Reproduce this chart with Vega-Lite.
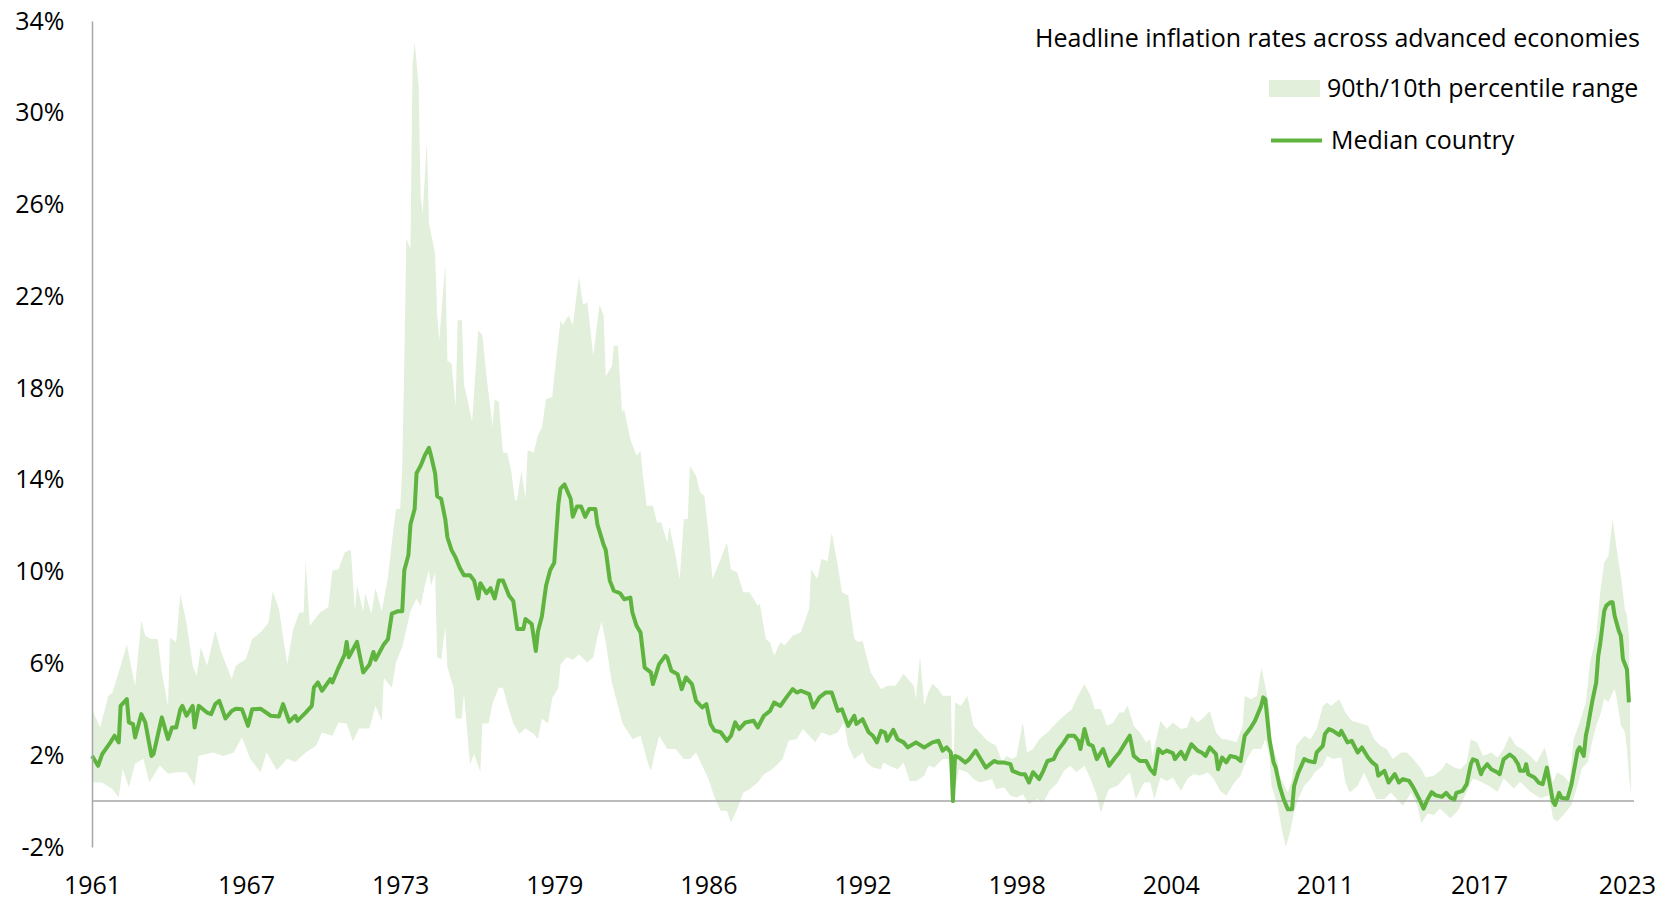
{
"$schema": "https://vega.github.io/schema/vega-lite/v6.json",
"width": 1542, "height": 826,
"autosize": {"type": "none"},
"padding": {"left": 92, "top": 21, "right": 33, "bottom": 55},
"background": "white",
"config": {"view": {"stroke": null}, "font": "Open Sans"},
"title": {"text": "Headline inflation rates across advanced economies", "anchor": "end", "frame": "group", "orient": "top", "fontSize": 25, "fontWeight": "normal", "color": "#000000", "font": "Open Sans", "baseline": "middle", "offset": 0, "dy": 55, "dx": 6},
"datasets": {
"hi": [
{"d":"1961-01","v":4.0},{"d":"1961-05","v":3.21},{"d":"1961-09","v":4.59},{"d":"1961-11","v":4.73},{"d":"1962-03","v":5.9},{"d":"1962-06","v":6.84},{"d":"1962-08","v":5.9},{"d":"1962-10","v":5.02},{"d":"1963-01","v":7.86},{"d":"1963-03","v":7.2},{"d":"1963-06","v":7.06},{"d":"1963-09","v":7.06},{"d":"1963-11","v":5.6},{"d":"1964-02","v":4.15},{"d":"1964-03","v":7.13},{"d":"1964-06","v":6.91},{"d":"1964-08","v":9.02},{"d":"1964-11","v":7.75},{"d":"1965-02","v":5.9},{"d":"1965-04","v":5.46},{"d":"1965-06","v":6.7},{"d":"1965-09","v":5.9},{"d":"1966-01","v":7.42},{"d":"1966-04","v":6.48},{"d":"1966-09","v":5.32},{"d":"1966-11","v":5.9},{"d":"1967-04","v":6.19},{"d":"1967-07","v":7.06},{"d":"1967-11","v":7.35},{"d":"1968-03","v":7.78},{"d":"1968-05","v":9.16},{"d":"1968-08","v":8.37},{"d":"1968-12","v":5.97},{"d":"1969-03","v":7.5},{"d":"1969-06","v":8.22},{"d":"1969-08","v":8.22},{"d":"1969-09","v":10.47},{"d":"1969-11","v":7.64},{"d":"1970-04","v":8.22},{"d":"1970-08","v":8.45},{"d":"1970-10","v":10.04},{"d":"1971-01","v":10.1},{"d":"1971-04","v":10.84},{"d":"1971-07","v":10.95},{"d":"1971-09","v":8.28},{"d":"1971-10","v":9.39},{"d":"1972-01","v":8.28},{"d":"1972-02","v":9.06},{"d":"1972-05","v":8.17},{"d":"1972-07","v":9.28},{"d":"1972-10","v":8.28},{"d":"1973-01","v":9.72},{"d":"1973-03","v":11.28},{"d":"1973-05","v":12.73},{"d":"1973-07","v":12.73},{"d":"1973-08","v":14.51},{"d":"1973-09","v":19.18},{"d":"1973-10","v":24.52},{"d":"1973-12","v":24.07},{"d":"1974-01","v":32.09},{"d":"1974-02","v":33.09},{"d":"1974-04","v":31.2},{"d":"1974-05","v":26.3},{"d":"1974-06","v":25.63},{"d":"1974-08","v":28.75},{"d":"1974-09","v":25.19},{"d":"1974-12","v":23.85},{"d":"1975-01","v":21.18},{"d":"1975-02","v":20.07},{"d":"1975-05","v":23.41},{"d":"1975-06","v":19.18},{"d":"1975-08","v":19.07},{"d":"1975-10","v":17.18},{"d":"1975-11","v":20.96},{"d":"1976-01","v":20.96},{"d":"1976-02","v":18.18},{"d":"1976-04","v":17.4},{"d":"1976-06","v":16.51},{"d":"1976-07","v":17.85},{"d":"1976-09","v":20.52},{"d":"1976-11","v":20.29},{"d":"1977-01","v":18.51},{"d":"1977-04","v":16.29},{"d":"1977-05","v":17.51},{"d":"1977-07","v":17.4},{"d":"1977-09","v":15.18},{"d":"1977-11","v":15.18},{"d":"1978-01","v":14.4},{"d":"1978-03","v":13.06},{"d":"1978-04","v":13.17},{"d":"1978-06","v":14.4},{"d":"1978-08","v":13.17},{"d":"1978-09","v":15.29},{"d":"1978-12","v":15.18},{"d":"1979-02","v":15.95},{"d":"1979-04","v":16.29},{"d":"1979-06","v":17.51},{"d":"1979-09","v":17.62},{"d":"1979-10","v":18.51},{"d":"1980-01","v":20.96},{"d":"1980-02","v":20.74},{"d":"1980-05","v":21.18},{"d":"1980-07","v":20.74},{"d":"1980-10","v":22.85},{"d":"1980-12","v":21.63},{"d":"1981-02","v":21.74},{"d":"1981-05","v":19.4},{"d":"1981-08","v":21.63},{"d":"1981-10","v":21.18},{"d":"1981-11","v":18.51},{"d":"1982-02","v":18.96},{"d":"1982-03","v":19.85},{"d":"1982-05","v":19.85},{"d":"1982-07","v":16.94},{"d":"1982-08","v":17.08},{"d":"1982-11","v":15.77},{"d":"1983-02","v":15.05},{"d":"1983-04","v":15.26},{"d":"1983-05","v":14.32},{"d":"1983-07","v":12.87},{"d":"1983-10","v":12.87},{"d":"1983-12","v":12.14},{"d":"1984-02","v":12.14},{"d":"1984-05","v":11.27},{"d":"1984-06","v":11.99},{"d":"1984-09","v":10.69},{"d":"1984-11","v":9.68},{"d":"1985-01","v":12.29},{"d":"1985-03","v":12.29},{"d":"1985-04","v":14.61},{"d":"1985-07","v":14.18},{"d":"1985-09","v":13.45},{"d":"1985-11","v":13.31},{"d":"1986-01","v":11.71},{"d":"1986-03","v":9.68},{"d":"1986-07","v":10.55},{"d":"1986-10","v":11.27},{"d":"1986-12","v":10.11},{"d":"1987-03","v":9.97},{"d":"1987-06","v":9.1},{"d":"1987-09","v":9.1},{"d":"1988-01","v":8.52},{"d":"1988-02","v":8.59},{"d":"1988-05","v":7.07},{"d":"1988-07","v":6.92},{"d":"1988-09","v":6.34},{"d":"1988-12","v":6.92},{"d":"1989-02","v":6.78},{"d":"1989-06","v":7.21},{"d":"1989-10","v":7.36},{"d":"1990-02","v":8.38},{"d":"1990-03","v":10.11},{"d":"1990-06","v":9.68},{"d":"1990-08","v":10.55},{"d":"1990-11","v":10.47},{"d":"1991-01","v":11.71},{"d":"1991-04","v":10.26},{"d":"1991-06","v":9.1},{"d":"1991-09","v":8.96},{"d":"1991-12","v":7.07},{"d":"1992-02","v":6.92},{"d":"1992-04","v":6.99},{"d":"1992-08","v":5.61},{"d":"1992-11","v":5.17},{"d":"1993-01","v":4.88},{"d":"1993-04","v":5.03},{"d":"1993-08","v":5.03},{"d":"1993-12","v":5.54},{"d":"1994-02","v":5.32},{"d":"1994-05","v":5.03},{"d":"1994-06","v":4.45},{"d":"1994-08","v":6.34},{"d":"1994-10","v":4.16},{"d":"1994-12","v":4.74},{"d":"1995-02","v":5.1},{"d":"1995-05","v":4.88},{"d":"1995-07","v":4.59},{"d":"1995-11","v":4.59},{"d":"1995-12","v":0},{"d":"1996-01","v":4.3},{"d":"1996-04","v":4.16},{"d":"1996-07","v":4.59},{"d":"1996-10","v":3.28},{"d":"1997-01","v":2.99},{"d":"1997-04","v":2.7},{"d":"1997-06","v":2.56},{"d":"1997-09","v":2.41},{"d":"1997-12","v":1.68},{"d":"1998-02","v":1.97},{"d":"1998-05","v":1.83},{"d":"1998-07","v":1.97},{"d":"1998-10","v":3.43},{"d":"1998-12","v":2.12},{"d":"1999-03","v":2.27},{"d":"1999-06","v":2.7},{"d":"1999-10","v":2.99},{"d":"2000-01","v":3.28},{"d":"2000-06","v":3.72},{"d":"2000-10","v":4.01},{"d":"2000-12","v":4.45},{"d":"2001-04","v":5.1},{"d":"2001-07","v":4.59},{"d":"2001-09","v":4.01},{"d":"2001-12","v":4.01},{"d":"2002-03","v":3.28},{"d":"2002-06","v":3.43},{"d":"2002-09","v":3.86},{"d":"2002-11","v":3.86},{"d":"2003-01","v":4.16},{"d":"2003-04","v":3.28},{"d":"2003-07","v":2.99},{"d":"2003-10","v":2.56},{"d":"2003-12","v":2.7},{"d":"2004-01","v":1.97},{"d":"2004-05","v":3.5},{"d":"2004-08","v":3.14},{"d":"2004-11","v":3.43},{"d":"2005-03","v":3.14},{"d":"2005-06","v":3.21},{"d":"2005-08","v":3.72},{"d":"2005-11","v":3.43},{"d":"2006-02","v":3.64},{"d":"2006-05","v":3.93},{"d":"2006-08","v":2.99},{"d":"2006-11","v":2.7},{"d":"2007-01","v":2.7},{"d":"2007-06","v":2.56},{"d":"2007-09","v":3.28},{"d":"2007-10","v":4.59},{"d":"2008-01","v":4.44},{"d":"2008-04","v":4.59},{"d":"2008-06","v":5.82},{"d":"2008-08","v":5.02},{"d":"2008-10","v":4.01},{"d":"2008-11","v":2.56},{"d":"2009-02","v":1.69},{"d":"2009-03","v":1.1},{"d":"2009-07","v":0.38},{"d":"2009-09","v":0.96},{"d":"2009-11","v":2.41},{"d":"2010-03","v":2.85},{"d":"2010-06","v":2.7},{"d":"2010-09","v":3.14},{"d":"2010-12","v":4.15},{"d":"2011-02","v":4.3},{"d":"2011-04","v":4.15},{"d":"2011-08","v":4.44},{"d":"2011-11","v":3.86},{"d":"2012-02","v":3.5},{"d":"2012-05","v":3.43},{"d":"2012-10","v":3.28},{"d":"2013-01","v":2.7},{"d":"2013-04","v":2.41},{"d":"2013-07","v":2.27},{"d":"2013-10","v":1.83},{"d":"2014-02","v":2.12},{"d":"2014-05","v":2.12},{"d":"2014-08","v":1.83},{"d":"2014-12","v":1.39},{"d":"2015-02","v":1.03},{"d":"2015-06","v":1.1},{"d":"2015-10","v":1.39},{"d":"2015-12","v":1.68},{"d":"2016-04","v":1.46},{"d":"2016-07","v":1.39},{"d":"2016-10","v":1.68},{"d":"2016-12","v":2.7},{"d":"2017-03","v":2.56},{"d":"2017-06","v":1.97},{"d":"2017-10","v":2.12},{"d":"2018-01","v":1.9},{"d":"2018-04","v":2.27},{"d":"2018-07","v":2.85},{"d":"2018-10","v":2.41},{"d":"2019-01","v":2.27},{"d":"2019-05","v":1.97},{"d":"2019-08","v":1.68},{"d":"2019-12","v":2.34},{"d":"2020-01","v":1.97},{"d":"2020-04","v":0.81},{"d":"2020-06","v":1.25},{"d":"2020-09","v":1.1},{"d":"2020-12","v":0.81},{"d":"2021-02","v":2.7},{"d":"2021-05","v":3.43},{"d":"2021-08","v":4.3},{"d":"2021-10","v":6.04},{"d":"2022-01","v":7.2},{"d":"2022-03","v":9.09},{"d":"2022-05","v":10.4},{"d":"2022-07","v":10.69},{"d":"2022-09","v":12.29},{"d":"2022-11","v":10.98},{"d":"2023-01","v":9.82},{"d":"2023-03","v":8.37},{"d":"2023-04","v":8.08},{"d":"2023-05","v":7.2},{"d":"2023-06","v":0.5}
],
"lo": [
{"d":"1961-01","v":0.81},{"d":"1961-06","v":0.81},{"d":"1961-11","v":0.52},{"d":"1962-02","v":0.17},{"d":"1962-04","v":1.41},{"d":"1962-07","v":0.6},{"d":"1962-10","v":1.63},{"d":"1963-02","v":1.85},{"d":"1963-05","v":0.81},{"d":"1963-10","v":1.55},{"d":"1964-02","v":1.19},{"d":"1964-06","v":1.26},{"d":"1964-11","v":1.26},{"d":"1965-03","v":0.67},{"d":"1965-05","v":1.97},{"d":"1965-12","v":2.12},{"d":"1966-05","v":1.97},{"d":"1966-10","v":2.12},{"d":"1967-02","v":2.77},{"d":"1967-06","v":1.85},{"d":"1967-11","v":1.26},{"d":"1968-02","v":2.12},{"d":"1968-07","v":1.34},{"d":"1968-12","v":1.85},{"d":"1969-04","v":1.7},{"d":"1969-09","v":2.12},{"d":"1970-02","v":2.41},{"d":"1970-05","v":2.99},{"d":"1970-10","v":2.85},{"d":"1971-01","v":3.43},{"d":"1971-05","v":3.38},{"d":"1971-08","v":2.6},{"d":"1971-11","v":3.16},{"d":"1972-04","v":3.16},{"d":"1972-07","v":4.16},{"d":"1972-10","v":3.49},{"d":"1972-11","v":5.38},{"d":"1973-03","v":4.94},{"d":"1973-05","v":6.05},{"d":"1973-08","v":6.72},{"d":"1973-12","v":8.28},{"d":"1974-03","v":8.83},{"d":"1974-05","v":8.5},{"d":"1974-07","v":9.39},{"d":"1974-09","v":10.06},{"d":"1974-10","v":9.39},{"d":"1974-12","v":9.95},{"d":"1975-01","v":6.27},{"d":"1975-03","v":6.16},{"d":"1975-05","v":7.61},{"d":"1975-06","v":5.83},{"d":"1975-09","v":4.94},{"d":"1975-10","v":3.6},{"d":"1976-01","v":3.6},{"d":"1976-02","v":4.72},{"d":"1976-05","v":1.6},{"d":"1976-07","v":2.05},{"d":"1976-10","v":1.27},{"d":"1976-11","v":3.38},{"d":"1977-02","v":3.38},{"d":"1977-04","v":4.27},{"d":"1977-07","v":4.94},{"d":"1977-09","v":4.94},{"d":"1977-11","v":4.27},{"d":"1978-02","v":3.38},{"d":"1978-05","v":2.94},{"d":"1978-08","v":3.16},{"d":"1978-12","v":2.94},{"d":"1979-02","v":2.71},{"d":"1979-04","v":3.6},{"d":"1979-07","v":3.38},{"d":"1979-09","v":4.49},{"d":"1979-12","v":4.94},{"d":"1980-01","v":5.94},{"d":"1980-04","v":6.27},{"d":"1980-07","v":6.16},{"d":"1980-10","v":6.39},{"d":"1981-02","v":6.05},{"d":"1981-05","v":6.27},{"d":"1981-07","v":7.16},{"d":"1981-09","v":7.83},{"d":"1981-11","v":6.94},{"d":"1982-02","v":5.16},{"d":"1982-04","v":4.49},{"d":"1982-06","v":3.83},{"d":"1982-07","v":3.43},{"d":"1982-10","v":3.0},{"d":"1982-12","v":2.71},{"d":"1983-04","v":2.85},{"d":"1983-07","v":1.83},{"d":"1983-09","v":1.32},{"d":"1983-11","v":2.12},{"d":"1984-01","v":2.85},{"d":"1984-05","v":2.27},{"d":"1984-09","v":2.27},{"d":"1985-01","v":1.83},{"d":"1985-04","v":1.83},{"d":"1985-07","v":2.12},{"d":"1985-10","v":1.54},{"d":"1986-01","v":0.96},{"d":"1986-04","v":0.16},{"d":"1986-07","v":-0.42},{"d":"1986-10","v":-0.42},{"d":"1986-12","v":-0.93},{"d":"1987-03","v":-0.35},{"d":"1987-06","v":0.38},{"d":"1987-09","v":0.52},{"d":"1988-01","v":0.81},{"d":"1988-04","v":1.17},{"d":"1988-07","v":1.32},{"d":"1988-10","v":1.54},{"d":"1989-01","v":1.83},{"d":"1989-04","v":2.63},{"d":"1989-08","v":2.71},{"d":"1989-11","v":3.14},{"d":"1990-02","v":2.85},{"d":"1990-05","v":2.56},{"d":"1990-08","v":3.0},{"d":"1990-12","v":2.85},{"d":"1991-04","v":3.0},{"d":"1991-07","v":3.43},{"d":"1991-09","v":2.41},{"d":"1991-12","v":1.83},{"d":"1992-04","v":2.12},{"d":"1992-06","v":1.68},{"d":"1992-09","v":1.46},{"d":"1993-01","v":1.39},{"d":"1993-02","v":1.68},{"d":"1993-05","v":1.54},{"d":"1993-09","v":1.39},{"d":"1993-12","v":1.68},{"d":"1994-03","v":0.88},{"d":"1994-06","v":0.88},{"d":"1994-10","v":1.1},{"d":"1994-12","v":1.54},{"d":"1995-03","v":1.46},{"d":"1995-07","v":1.83},{"d":"1995-10","v":1.83},{"d":"1995-11","v":1.68},{"d":"1995-12","v":0},{"d":"1996-03","v":1.39},{"d":"1996-07","v":1.26},{"d":"1996-10","v":0.96},{"d":"1997-01","v":0.81},{"d":"1997-04","v":0.88},{"d":"1997-07","v":0.96},{"d":"1997-09","v":0.52},{"d":"1998-01","v":0.6},{"d":"1998-04","v":0.23},{"d":"1998-07","v":0.16},{"d":"1998-10","v":0.3},{"d":"1999-01","v":-0.13},{"d":"1999-05","v":0.09},{"d":"1999-08","v":-0.06},{"d":"1999-11","v":0.45},{"d":"2000-03","v":0.81},{"d":"2000-06","v":1.32},{"d":"2000-09","v":1.54},{"d":"2000-12","v":1.26},{"d":"2001-04","v":1.54},{"d":"2001-07","v":0.96},{"d":"2001-10","v":0.23},{"d":"2001-12","v":-0.51},{"d":"2002-02","v":0.09},{"d":"2002-04","v":0.52},{"d":"2002-08","v":0.67},{"d":"2002-11","v":0.96},{"d":"2003-02","v":1.26},{"d":"2003-05","v":0.09},{"d":"2003-09","v":0.81},{"d":"2003-12","v":0.81},{"d":"2004-02","v":0.09},{"d":"2004-05","v":1.03},{"d":"2004-08","v":0.88},{"d":"2004-11","v":1.03},{"d":"2005-03","v":0.45},{"d":"2005-06","v":0.96},{"d":"2005-09","v":1.18},{"d":"2005-12","v":1.1},{"d":"2006-04","v":1.25},{"d":"2006-07","v":0.96},{"d":"2006-10","v":0.45},{"d":"2007-01","v":0.23},{"d":"2007-05","v":0.81},{"d":"2007-08","v":1.1},{"d":"2007-11","v":1.83},{"d":"2008-02","v":2.27},{"d":"2008-06","v":2.27},{"d":"2008-08","v":2.7},{"d":"2008-10","v":1.97},{"d":"2008-11","v":0.67},{"d":"2009-02","v":-0.2},{"d":"2009-04","v":-1.22},{"d":"2009-06","v":-2.0},{"d":"2009-08","v":-1.37},{"d":"2009-10","v":-0.49},{"d":"2009-12","v":0.09},{"d":"2010-03","v":0.67},{"d":"2010-06","v":0.96},{"d":"2010-08","v":1.25},{"d":"2010-12","v":1.54},{"d":"2011-02","v":1.97},{"d":"2011-05","v":1.83},{"d":"2011-09","v":1.9},{"d":"2011-11","v":0.81},{"d":"2012-01","v":0.38},{"d":"2012-05","v":0.67},{"d":"2012-08","v":1.25},{"d":"2012-11","v":0.67},{"d":"2013-02","v":0.09},{"d":"2013-06","v":0.09},{"d":"2013-09","v":0.38},{"d":"2013-12","v":0.09},{"d":"2014-03","v":-0.2},{"d":"2014-07","v":0.38},{"d":"2014-10","v":-0.2},{"d":"2014-12","v":-0.97},{"d":"2015-03","v":-0.54},{"d":"2015-06","v":-0.61},{"d":"2015-09","v":-0.32},{"d":"2016-02","v":-0.75},{"d":"2016-06","v":-0.39},{"d":"2016-10","v":0.41},{"d":"2017-01","v":0.99},{"d":"2017-05","v":0.84},{"d":"2017-08","v":0.7},{"d":"2018-01","v":0.41},{"d":"2018-04","v":0.99},{"d":"2018-09","v":0.55},{"d":"2018-12","v":0.84},{"d":"2019-05","v":0.41},{"d":"2019-10","v":0.12},{"d":"2020-02","v":0.26},{"d":"2020-04","v":-0.75},{"d":"2020-06","v":-0.9},{"d":"2020-09","v":-0.61},{"d":"2021-01","v":-0.17},{"d":"2021-04","v":0.7},{"d":"2021-06","v":1.42},{"d":"2021-09","v":1.71},{"d":"2021-11","v":2.58},{"d":"2022-01","v":3.31},{"d":"2022-03","v":3.74},{"d":"2022-05","v":4.47},{"d":"2022-07","v":4.32},{"d":"2022-10","v":4.9},{"d":"2022-11","v":4.47},{"d":"2023-01","v":3.31},{"d":"2023-03","v":3.02},{"d":"2023-04","v":2.29},{"d":"2023-05","v":1.13},{"d":"2023-06","v":0.3}
],
"med": [
{"d":"1961-01","v":1.97},{"d":"1961-04","v":1.54},{"d":"1961-06","v":2.05},{"d":"1961-10","v":2.56},{"d":"1961-12","v":2.85},{"d":"1962-02","v":2.56},{"d":"1962-03","v":4.15},{"d":"1962-06","v":4.44},{"d":"1962-07","v":3.43},{"d":"1962-09","v":3.36},{"d":"1962-10","v":2.77},{"d":"1963-01","v":3.79},{"d":"1963-03","v":3.43},{"d":"1963-06","v":1.97},{"d":"1963-07","v":2.05},{"d":"1963-09","v":2.85},{"d":"1963-11","v":3.65},{"d":"1964-02","v":2.7},{"d":"1964-04","v":3.21},{"d":"1964-06","v":3.21},{"d":"1964-08","v":4.0},{"d":"1964-09","v":4.15},{"d":"1964-11","v":3.72},{"d":"1965-02","v":4.15},{"d":"1965-03","v":3.21},{"d":"1965-05","v":4.15},{"d":"1965-09","v":3.86},{"d":"1965-11","v":3.79},{"d":"1966-01","v":4.23},{"d":"1966-03","v":4.37},{"d":"1966-06","v":3.6},{"d":"1966-09","v":3.93},{"d":"1966-11","v":4.03},{"d":"1967-02","v":4.0},{"d":"1967-05","v":3.28},{"d":"1967-07","v":4.0},{"d":"1967-11","v":4.03},{"d":"1968-04","v":3.72},{"d":"1968-08","v":3.69},{"d":"1968-10","v":4.23},{"d":"1969-01","v":3.46},{"d":"1969-04","v":3.72},{"d":"1969-05","v":3.5},{"d":"1969-09","v":3.86},{"d":"1969-12","v":4.15},{"d":"1970-01","v":4.95},{"d":"1970-03","v":5.17},{"d":"1970-05","v":4.81},{"d":"1970-09","v":5.32},{"d":"1970-10","v":5.17},{"d":"1971-01","v":5.82},{"d":"1971-04","v":6.39},{"d":"1971-05","v":6.94},{"d":"1971-06","v":6.27},{"d":"1971-10","v":6.94},{"d":"1972-01","v":5.61},{"d":"1972-04","v":5.94},{"d":"1972-06","v":6.5},{"d":"1972-07","v":6.16},{"d":"1972-11","v":6.83},{"d":"1973-01","v":7.05},{"d":"1973-03","v":8.17},{"d":"1973-06","v":8.28},{"d":"1973-08","v":8.28},{"d":"1973-09","v":10.06},{"d":"1973-11","v":10.73},{"d":"1973-12","v":12.06},{"d":"1974-02","v":12.73},{"d":"1974-03","v":14.29},{"d":"1974-05","v":14.62},{"d":"1974-07","v":15.06},{"d":"1974-09","v":15.4},{"d":"1974-10","v":15.06},{"d":"1974-12","v":14.29},{"d":"1975-01","v":13.28},{"d":"1975-03","v":13.17},{"d":"1975-05","v":12.28},{"d":"1975-06","v":11.5},{"d":"1975-08","v":10.95},{"d":"1975-10","v":10.61},{"d":"1975-12","v":10.17},{"d":"1976-02","v":9.84},{"d":"1976-05","v":9.84},{"d":"1976-07","v":9.61},{"d":"1976-09","v":8.83},{"d":"1976-10","v":9.5},{"d":"1977-01","v":9.06},{"d":"1977-03","v":9.28},{"d":"1977-05","v":8.83},{"d":"1977-07","v":9.61},{"d":"1977-09","v":9.61},{"d":"1977-12","v":8.95},{"d":"1978-02","v":8.72},{"d":"1978-04","v":7.5},{"d":"1978-07","v":7.5},{"d":"1978-08","v":7.94},{"d":"1978-11","v":7.72},{"d":"1979-01","v":6.54},{"d":"1979-02","v":7.39},{"d":"1979-04","v":8.06},{"d":"1979-06","v":9.39},{"d":"1979-08","v":10.06},{"d":"1979-10","v":10.39},{"d":"1979-12","v":12.95},{"d":"1980-01","v":13.62},{"d":"1980-03","v":13.8},{"d":"1980-06","v":13.17},{"d":"1980-07","v":12.39},{"d":"1980-09","v":12.84},{"d":"1980-11","v":12.84},{"d":"1981-01","v":12.39},{"d":"1981-03","v":12.73},{"d":"1981-06","v":12.73},{"d":"1981-07","v":12.06},{"d":"1981-10","v":11.17},{"d":"1981-11","v":10.95},{"d":"1982-01","v":9.61},{"d":"1982-03","v":9.17},{"d":"1982-06","v":9.06},{"d":"1982-08","v":8.8},{"d":"1982-11","v":8.87},{"d":"1982-12","v":8.22},{"d":"1983-02","v":7.64},{"d":"1983-04","v":7.35},{"d":"1983-06","v":5.82},{"d":"1983-09","v":5.61},{"d":"1983-10","v":5.1},{"d":"1984-01","v":5.97},{"d":"1984-04","v":6.33},{"d":"1984-05","v":6.26},{"d":"1984-07","v":5.68},{"d":"1984-10","v":5.53},{"d":"1984-12","v":4.88},{"d":"1985-02","v":5.39},{"d":"1985-05","v":5.1},{"d":"1985-07","v":4.37},{"d":"1985-10","v":4.08},{"d":"1985-12","v":4.23},{"d":"1986-02","v":3.36},{"d":"1986-04","v":3.07},{"d":"1986-07","v":3.0},{"d":"1986-10","v":2.63},{"d":"1986-12","v":2.85},{"d":"1987-02","v":3.43},{"d":"1987-04","v":3.14},{"d":"1987-07","v":3.43},{"d":"1987-11","v":3.5},{"d":"1988-01","v":3.21},{"d":"1988-04","v":3.72},{"d":"1988-07","v":3.93},{"d":"1988-09","v":4.3},{"d":"1988-12","v":4.15},{"d":"1989-03","v":4.52},{"d":"1989-06","v":4.88},{"d":"1989-08","v":4.73},{"d":"1989-10","v":4.81},{"d":"1990-02","v":4.66},{"d":"1990-04","v":4.08},{"d":"1990-07","v":4.52},{"d":"1990-10","v":4.73},{"d":"1991-01","v":4.73},{"d":"1991-04","v":3.93},{"d":"1991-06","v":4.0},{"d":"1991-09","v":3.28},{"d":"1991-12","v":3.72},{"d":"1992-01","v":3.36},{"d":"1992-04","v":3.57},{"d":"1992-07","v":3.0},{"d":"1992-09","v":2.85},{"d":"1992-11","v":2.56},{"d":"1993-01","v":3.06},{"d":"1993-03","v":2.99},{"d":"1993-04","v":2.63},{"d":"1993-07","v":3.11},{"d":"1993-09","v":2.7},{"d":"1993-12","v":2.56},{"d":"1994-02","v":2.34},{"d":"1994-06","v":2.56},{"d":"1994-10","v":2.34},{"d":"1995-02","v":2.56},{"d":"1995-05","v":2.63},{"d":"1995-07","v":2.2},{"d":"1995-09","v":2.34},{"d":"1995-11","v":2.12},{"d":"1995-12","v":0},{"d":"1996-01","v":1.97},{"d":"1996-03","v":1.9},{"d":"1996-06","v":1.68},{"d":"1996-08","v":1.83},{"d":"1996-11","v":2.2},{"d":"1997-01","v":1.9},{"d":"1997-04","v":1.46},{"d":"1997-08","v":1.75},{"d":"1997-10","v":1.68},{"d":"1998-01","v":1.68},{"d":"1998-04","v":1.61},{"d":"1998-05","v":1.32},{"d":"1998-09","v":1.17},{"d":"1998-11","v":1.17},{"d":"1999-01","v":0.81},{"d":"1999-03","v":1.26},{"d":"1999-06","v":0.96},{"d":"1999-08","v":1.32},{"d":"1999-10","v":1.75},{"d":"2000-01","v":1.83},{"d":"2000-03","v":2.2},{"d":"2000-06","v":2.56},{"d":"2000-08","v":2.85},{"d":"2000-11","v":2.85},{"d":"2001-01","v":2.63},{"d":"2001-02","v":2.27},{"d":"2001-04","v":3.14},{"d":"2001-06","v":2.48},{"d":"2001-08","v":2.41},{"d":"2001-10","v":1.83},{"d":"2002-01","v":2.27},{"d":"2002-04","v":1.54},{"d":"2002-07","v":1.9},{"d":"2002-09","v":2.12},{"d":"2002-12","v":2.56},{"d":"2003-02","v":2.85},{"d":"2003-04","v":1.97},{"d":"2003-07","v":1.75},{"d":"2003-10","v":1.75},{"d":"2003-12","v":1.39},{"d":"2004-02","v":1.18},{"d":"2004-04","v":2.27},{"d":"2004-06","v":2.09},{"d":"2004-08","v":2.2},{"d":"2004-11","v":2.09},{"d":"2004-12","v":1.83},{"d":"2005-03","v":2.15},{"d":"2005-05","v":1.83},{"d":"2005-08","v":2.48},{"d":"2005-11","v":2.2},{"d":"2006-01","v":2.12},{"d":"2006-03","v":1.97},{"d":"2006-05","v":2.34},{"d":"2006-08","v":2.05},{"d":"2006-09","v":1.39},{"d":"2006-11","v":1.9},{"d":"2007-01","v":1.69},{"d":"2007-03","v":1.97},{"d":"2007-06","v":1.9},{"d":"2007-08","v":1.75},{"d":"2007-10","v":2.85},{"d":"2008-01","v":3.21},{"d":"2008-03","v":3.5},{"d":"2008-06","v":4.15},{"d":"2008-07","v":4.52},{"d":"2008-08","v":4.44},{"d":"2008-10","v":2.7},{"d":"2008-12","v":1.69},{"d":"2009-01","v":1.46},{"d":"2009-03","v":0.65},{"d":"2009-05","v":0.07},{"d":"2009-07","v":-0.36},{"d":"2009-09","v":-0.36},{"d":"2009-10","v":0.65},{"d":"2009-12","v":1.23},{"d":"2010-03","v":1.83},{"d":"2010-05","v":1.75},{"d":"2010-08","v":1.69},{"d":"2010-09","v":2.12},{"d":"2010-12","v":2.41},{"d":"2011-01","v":2.92},{"d":"2011-03","v":3.14},{"d":"2011-05","v":3.06},{"d":"2011-08","v":2.88},{"d":"2011-09","v":3.06},{"d":"2011-12","v":2.56},{"d":"2012-02","v":2.63},{"d":"2012-05","v":2.12},{"d":"2012-07","v":2.34},{"d":"2012-10","v":1.9},{"d":"2012-12","v":1.69},{"d":"2013-02","v":1.55},{"d":"2013-03","v":1.11},{"d":"2013-06","v":1.32},{"d":"2013-08","v":0.81},{"d":"2013-11","v":1.18},{"d":"2014-01","v":0.81},{"d":"2014-03","v":0.96},{"d":"2014-06","v":0.88},{"d":"2014-08","v":0.6},{"d":"2014-11","v":0.07},{"d":"2015-01","v":-0.33},{"d":"2015-03","v":0.07},{"d":"2015-05","v":0.39},{"d":"2015-07","v":0.25},{"d":"2015-10","v":0.19},{"d":"2015-12","v":0.36},{"d":"2016-02","v":0.15},{"d":"2016-04","v":0.07},{"d":"2016-05","v":0.36},{"d":"2016-08","v":0.45},{"d":"2016-10","v":0.74},{"d":"2016-12","v":1.61},{"d":"2017-01","v":1.82},{"d":"2017-03","v":1.75},{"d":"2017-05","v":1.17},{"d":"2017-06","v":1.39},{"d":"2017-08","v":1.61},{"d":"2017-10","v":1.39},{"d":"2018-01","v":1.25},{"d":"2018-02","v":1.17},{"d":"2018-04","v":1.82},{"d":"2018-07","v":2.03},{"d":"2018-09","v":1.89},{"d":"2018-11","v":1.61},{"d":"2018-12","v":1.32},{"d":"2019-02","v":1.32},{"d":"2019-03","v":1.61},{"d":"2019-04","v":1.17},{"d":"2019-07","v":1.03},{"d":"2019-09","v":0.81},{"d":"2019-11","v":0.74},{"d":"2020-01","v":1.46},{"d":"2020-02","v":0.96},{"d":"2020-04","v":-0.03},{"d":"2020-05","v":-0.17},{"d":"2020-07","v":0.36},{"d":"2020-08","v":0.15},{"d":"2020-11","v":0.1},{"d":"2021-01","v":0.74},{"d":"2021-02","v":1.25},{"d":"2021-04","v":2.2},{"d":"2021-05","v":2.34},{"d":"2021-07","v":1.97},{"d":"2021-08","v":2.85},{"d":"2021-09","v":3.28},{"d":"2021-11","v":4.3},{"d":"2022-01","v":5.17},{"d":"2022-02","v":6.34},{"d":"2022-03","v":6.85},{"d":"2022-05","v":8.3},{"d":"2022-06","v":8.52},{"d":"2022-08","v":8.67},{"d":"2022-09","v":8.67},{"d":"2022-10","v":8.08},{"d":"2022-12","v":7.43},{"d":"2023-01","v":7.21},{"d":"2023-02","v":6.19},{"d":"2023-04","v":5.75},{"d":"2023-05","v":4.3}
]
},
"layer": [
{
"data": {"name": "hi"},
"mark": {"type": "area", "opacity": 1},
"encoding": {
"x": {"field": "d", "type": "temporal",
"scale": {"type": "utc", "domain": [{"year": 1961, "month": 1, "date": 1, "utc": true}, {"year": 2023, "month": 7, "date": 15, "utc": true}]},
"axis": {"values": [{"year": 1961, "month": 1, "date": 1, "utc": true}, {"year": 1967, "month": 4, "date": 1, "utc": true}, {"year": 1973, "month": 7, "date": 1, "utc": true}, {"year": 1979, "month": 10, "date": 1, "utc": true}, {"year": 1986, "month": 1, "date": 1, "utc": true}, {"year": 1992, "month": 4, "date": 1, "utc": true}, {"year": 1998, "month": 7, "date": 1, "utc": true}, {"year": 2004, "month": 10, "date": 1, "utc": true}, {"year": 2011, "month": 1, "date": 1, "utc": true}, {"year": 2017, "month": 4, "date": 1, "utc": true}, {"year": 2023, "month": 4, "date": 1, "utc": true}],
"format": "%Y", "title": null, "domain": false, "ticks": false, "grid": false, "labelFontSize": 25, "labelFont": "Open Sans", "labelColor": "#000000", "labelPadding": 26, "labelFlush": false, "labelOverlap": false}},
"y": {"field": "v", "type": "quantitative",
"scale": {"domain": [-2, 34], "nice": false, "zero": false, "clamp": true},
"axis": {"values": [-2, 2, 6, 10, 14, 18, 22, 26, 30, 34], "labelExpr": "datum.value + '%'", "title": null, "ticks": false, "grid": false, "domainColor": "#a6a6a6", "domainWidth": 1.5, "labelPadding": 28, "labelFontSize": 25, "labelFont": "Open Sans", "labelColor": "#000000", "zindex": 1}},
"y2": {"datum": -2},
"fill": {"datum": "90th/10th percentile range", "type": "nominal", "scale": {"range": ["#e2efda"]},
"legend": {"orient": "none", "legendX": 1177, "legendY": 42, "padding": 0, "title": null, "symbolType": "M-1,-0.333L1,-0.333L1,0.333L-1,0.333Z", "symbolSize": 2601, "symbolStrokeWidth": 0, "symbolOpacity": 1, "symbolFillColor": "#e2efda", "labelFontSize": 25, "labelFont": "Open Sans", "labelColor": "#000000", "labelOffset": 7, "labelLimit": 0}}
}
},
{
"data": {"name": "lo"},
"mark": {"type": "area", "fill": "#ffffff", "opacity": 1},
"encoding": {
"x": {"field": "d", "type": "temporal"},
"y": {"field": "v", "type": "quantitative"},
"y2": {"datum": -2}
}
},
{
"data": {"values": [{}]},
"mark": {"type": "rule", "color": "#a6a6a6", "strokeWidth": 1.5},
"encoding": {"y": {"datum": 0}}
},
{
"data": {"name": "med"},
"mark": {"type": "line", "strokeWidth": 4, "strokeJoin": "round"},
"encoding": {
"x": {"field": "d", "type": "temporal"},
"y": {"field": "v", "type": "quantitative"},
"stroke": {"datum": "Median country", "type": "nominal", "scale": {"range": ["#5eb43f"]},
"legend": {"orient": "none", "legendX": 1177, "legendY": 92, "padding": 0, "title": null, "symbolType": "stroke", "symbolSize": 2601, "symbolStrokeWidth": 4, "symbolStrokeColor": "#5eb43f", "labelFontSize": 25, "labelFont": "Open Sans", "labelColor": "#000000", "labelOffset": 7, "labelLimit": 0}}
}
}
]
}
